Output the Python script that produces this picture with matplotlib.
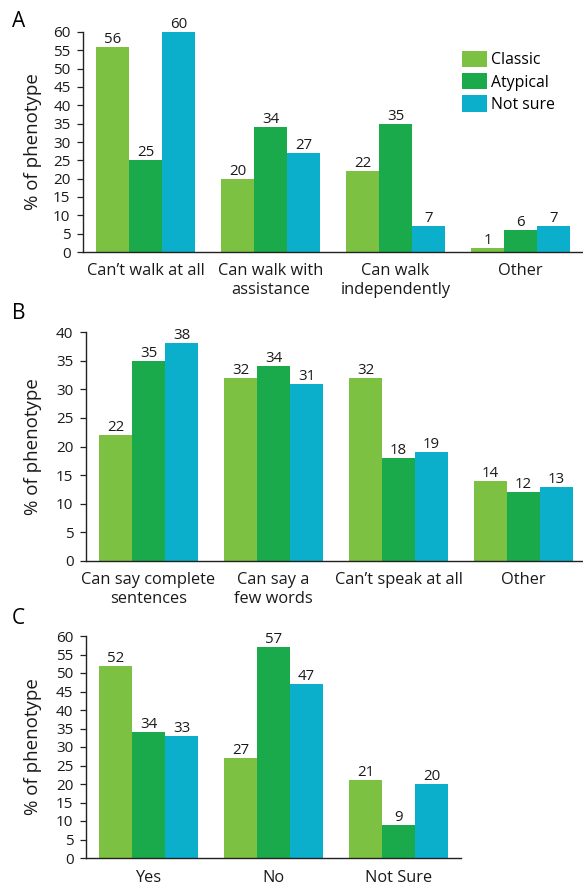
import matplotlib
matplotlib.use("Agg")
import matplotlib.pyplot as plt
import numpy as np

plt.rcParams["font.family"] = ["Open Sans", "DejaVu Sans"]

series = ["Classic", "Atypical", "Not sure"]
colors = ["#7dc142", "#1baa4b", "#0bafcc"]

# Panel A: mobility
cats_a = ["Can\u2019t walk at all", "Can walk with\nassistance", "Can walk\nindependently", "Other"]
classic_a = [56, 20, 22, 1]
atypical_a = [25, 34, 35, 6]
notsure_a = [60, 27, 7, 7]

# Panel B: speech
cats_b = ["Can say complete\nsentences", "Can say a\nfew words", "Can\u2019t speak at all", "Other"]
classic_b = [22, 32, 32, 14]
atypical_b = [35, 34, 18, 12]
notsure_b = [38, 31, 19, 13]

# Panel C
cats_c = ["Yes", "No", "Not Sure"]
classic_c = [52, 27, 21]
atypical_c = [34, 57, 9]
notsure_c = [33, 47, 20]

W, H = 583, 885
fig = plt.figure(figsize=(W / 100, H / 100), dpi=100)


def px_axes(left, top, right, bottom):
    ax = fig.add_axes([left / W, 1 - bottom / H, (right - left) / W, (bottom - top) / H])
    ax._px = (left, right)
    return ax


def panel(ax, cats, vals, ymax, letter, letter_top, xpad=8):
    x = np.arange(len(cats))
    bw = 0.264
    for i, (v, c, lab) in enumerate(zip(vals, colors, series)):
        bars = ax.bar(x + (i - 1) * bw, v, bw, color=c, label=lab, linewidth=0)
        for b, val in zip(bars, v):
            ax.annotate(str(val), (b.get_x() + b.get_width() / 2, val),
                        xytext=(0, 0), textcoords="offset points",
                        ha="center", va="bottom", fontsize=10.8, color="#1a1a1a")
    ax.set_xlim(-0.5, len(cats) - 0.5)
    ax.set_ylim(0, ymax)
    ax.set_yticks(np.arange(0, ymax + 1, 5))
    ax.set_xticks(x)
    ax.set_xticklabels(cats, fontsize=11.8, linespacing=1.2)
    ax.tick_params(axis="x", length=0, pad=xpad, labelcolor="#1a1a1a")
    ax.tick_params(axis="y", labelsize=11, length=4, width=0.9, pad=5,
                   color="#222222", labelcolor="#1a1a1a")
    for s in ("top", "right"):
        ax.spines[s].set_visible(False)
    for s in ("left", "bottom"):
        ax.spines[s].set_linewidth(1.0)
        ax.spines[s].set_color("#222222")
    ax.set_ylabel("% of phenotype", fontsize=13.5, color="#1a1a1a")
    left, right = ax._px
    ax.yaxis.set_label_coords((42 - left) / (right - left), 0.5)
    fig.text(12 / W, 1 - letter_top / H, letter, fontsize=15, ha="left", va="top")


ax_a = px_axes(83, 32, 583, 252)
panel(ax_a, cats_a, [classic_a, atypical_a, notsure_a], 60, "A", 11)
ax_a.legend(loc="upper left", bbox_to_anchor=(462 / W, 1 - 51 / H),
            bbox_transform=fig.transFigure, frameon=False, fontsize=11.4,
            handlelength=1.57, handleheight=1.2, handletextpad=0.25,
            labelspacing=0.3, borderpad=0, borderaxespad=0)

ax_b = px_axes(86, 332, 586, 561)
panel(ax_b, cats_b, [classic_b, atypical_b, notsure_b], 40, "B", 303)

ax_c = px_axes(86, 636, 461, 858)
panel(ax_c, cats_c, [classic_c, atypical_c, notsure_c], 60, "C", 608, xpad=9)

fig.savefig("out.png", dpi=100)
